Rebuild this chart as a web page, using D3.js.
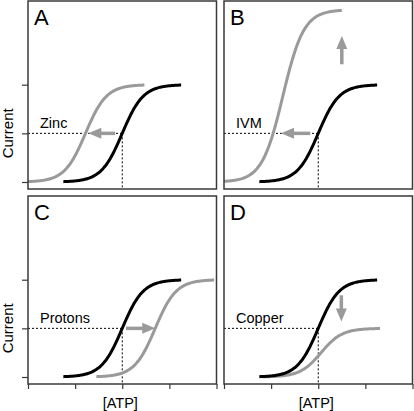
<!DOCTYPE html>
<html>
<head>
<meta charset="utf-8">
<script src="https://cdn.jsdelivr.net/npm/d3@7"></script>
<style>
  html, body { margin: 0; padding: 0; background: #fff; }
  svg { display: block; font-family: "Liberation Sans", Arial, sans-serif; }
</style>
</head>
<body>
<svg id="chart" width="414" height="411"></svg>
<script>
// ---- data ----
const panels = ["A", "B", "C", "D"];
const modLabels = ["Zinc", "IVM", "Protons", "Copper"];
const xTicks = [0, 1, 2, 3, 4];
const yTicks = [0, 0.5, 1];
const ctrlCentre = [2.0, 2.0, 2.0, 2.0];   // control (black) EC50 in x units
const ctrlAmp = [1, 1, 1, 1];
const modCentre = [1.22, 1.25, 2.7, 2.06]; // modulated (gray) EC50
const modAmp = [1, 1.77, 1, 0.5];          // modulated max current
const curveHalfSpan = 1.25;                // curves drawn from centre-1.25 to centre+1.25
const hillSlope = 4.5;
// arrows: panel index, tail (x,y), tip (x,y) in data units
const arrowPanel = [0, 1, 1, 2, 3];
const arrowX1 = [1.85, 1.83, 2.5, 2.08, 2.49];
const arrowY1 = [0.5, 0.5, 1.21, 0.5, 0.84];
const arrowX2 = [1.28, 1.21, 2.5, 2.7, 2.49];
const arrowY2 = [0.5, 0.5, 1.5, 0.5, 0.57];

// ---- layout ----
const colX = [28, 224];
const rowY = [1, 196];
const pw = 188.5, ph = 188;
const black = "#000", gray = "#9a9a9a", frame = "#3a3a3a";

const svg = d3.select("#chart");
const x = d3.scaleLinear().domain([0, 4]).range([0, pw]);
const y = d3.scaleLinear().domain([0, 1]).range([181, 83.7]);

function sigmoid(c, a) {
  const xs = d3.range(c - curveHalfSpan, c + curveHalfSpan + 1e-9, 0.02);
  return xs.map(v => [v, a / (1 + Math.exp(-hillSlope * (v - c)))]);
}
const line = d3.line().x(d => x(d[0])).y(d => y(d[1])).curve(d3.curveBasis);

const defs = svg.append("defs");

panels.forEach((p, i) => {
  const px = colX[i % 2], py = rowY[Math.floor(i / 2)];
  const g = svg.append("g").attr("transform", `translate(${px},${py})`);
  defs.append("clipPath").attr("id", "clip" + i)
    .append("rect").attr("x", 0).attr("y", 0).attr("width", pw).attr("height", ph);

  // ticks
  if (i % 2 === 0) {
    const ya = d3.axisLeft(y).tickValues(yTicks).tickSize(6).tickFormat("");
    const ag = g.append("g").call(ya);
    ag.select(".domain").remove();
    ag.selectAll("line").attr("stroke", frame).attr("stroke-width", 1.2);
  }
  if (i >= 2) {
    const xa = d3.axisBottom(x).tickValues(xTicks).tickSize(5).tickFormat("");
    const ag = g.append("g").attr("transform", `translate(0,${ph})`).call(xa);
    ag.select(".domain").remove();
    ag.selectAll("line").attr("stroke", frame).attr("stroke-width", 1.2);
  }

  const cg = g.append("g").attr("clip-path", `url(#clip${i})`);

  // dotted guide lines at control EC50
  const cx = x(ctrlCentre[i]), cy = y(0.5 * ctrlAmp[i]);
  cg.append("line").attr("x1", 0).attr("x2", cx).attr("y1", cy).attr("y2", cy)
    .attr("stroke", black).attr("stroke-width", 1).attr("stroke-dasharray", "2,2");
  cg.append("line").attr("x1", cx).attr("x2", cx).attr("y1", cy).attr("y2", ph)
    .attr("stroke", black).attr("stroke-width", 1).attr("stroke-dasharray", "2,2");

  // curves
  cg.append("path").datum(sigmoid(modCentre[i], modAmp[i])).attr("d", line)
    .attr("fill", "none").attr("stroke", gray).attr("stroke-width", 3);
  cg.append("path").datum(sigmoid(ctrlCentre[i], ctrlAmp[i])).attr("d", line)
    .attr("fill", "none").attr("stroke", black).attr("stroke-width", 3);

  // arrows
  arrowPanel.forEach((ap, k) => {
    if (ap !== i) return;
    const x1 = x(arrowX1[k]), y1 = y(arrowY1[k]), x2 = x(arrowX2[k]), y2 = y(arrowY2[k]);
    const ang = Math.atan2(y2 - y1, x2 - x1);
    const hl = 13, hw = 5.5;
    const bx = x2 - hl * Math.cos(ang), by = y2 - hl * Math.sin(ang);
    g.append("line").attr("x1", x1).attr("y1", y1).attr("x2", bx + Math.cos(ang)).attr("y2", by + Math.sin(ang))
      .attr("stroke", gray).attr("stroke-width", 3.5);
    const nx = -Math.sin(ang), ny = Math.cos(ang);
    g.append("path")
      .attr("d", `M${x2},${y2}L${bx + nx * hw},${by + ny * hw}L${bx - nx * hw},${by - ny * hw}Z`)
      .attr("fill", gray);
  });

  // frame
  g.append("rect").attr("x", 0).attr("y", 0).attr("width", pw).attr("height", ph)
    .attr("fill", "none").attr("stroke", frame).attr("stroke-width", 1.5);

  // texts
  g.append("text").attr("x", 6).attr("y", 24).attr("font-size", 22).attr("fill", "#000").text(p);
  g.append("text").attr("x", 12).attr("y", cy - 5.5).attr("font-size", 14.5).attr("fill", "#000").text(modLabels[i]);

  if (i % 2 === 0) {
    g.append("text").attr("transform", `translate(-15,${y(0.5)}) rotate(-90)`)
      .attr("text-anchor", "middle").attr("font-size", 15).attr("fill", "#000").text("Current");
  }
  if (i >= 2) {
    g.append("text").attr("x", x(2) - 2).attr("y", ph + 24).attr("text-anchor", "middle")
      .attr("font-size", 14.5).attr("fill", "#000").text("[ATP]");
  }
});
</script>
</body>
</html>
